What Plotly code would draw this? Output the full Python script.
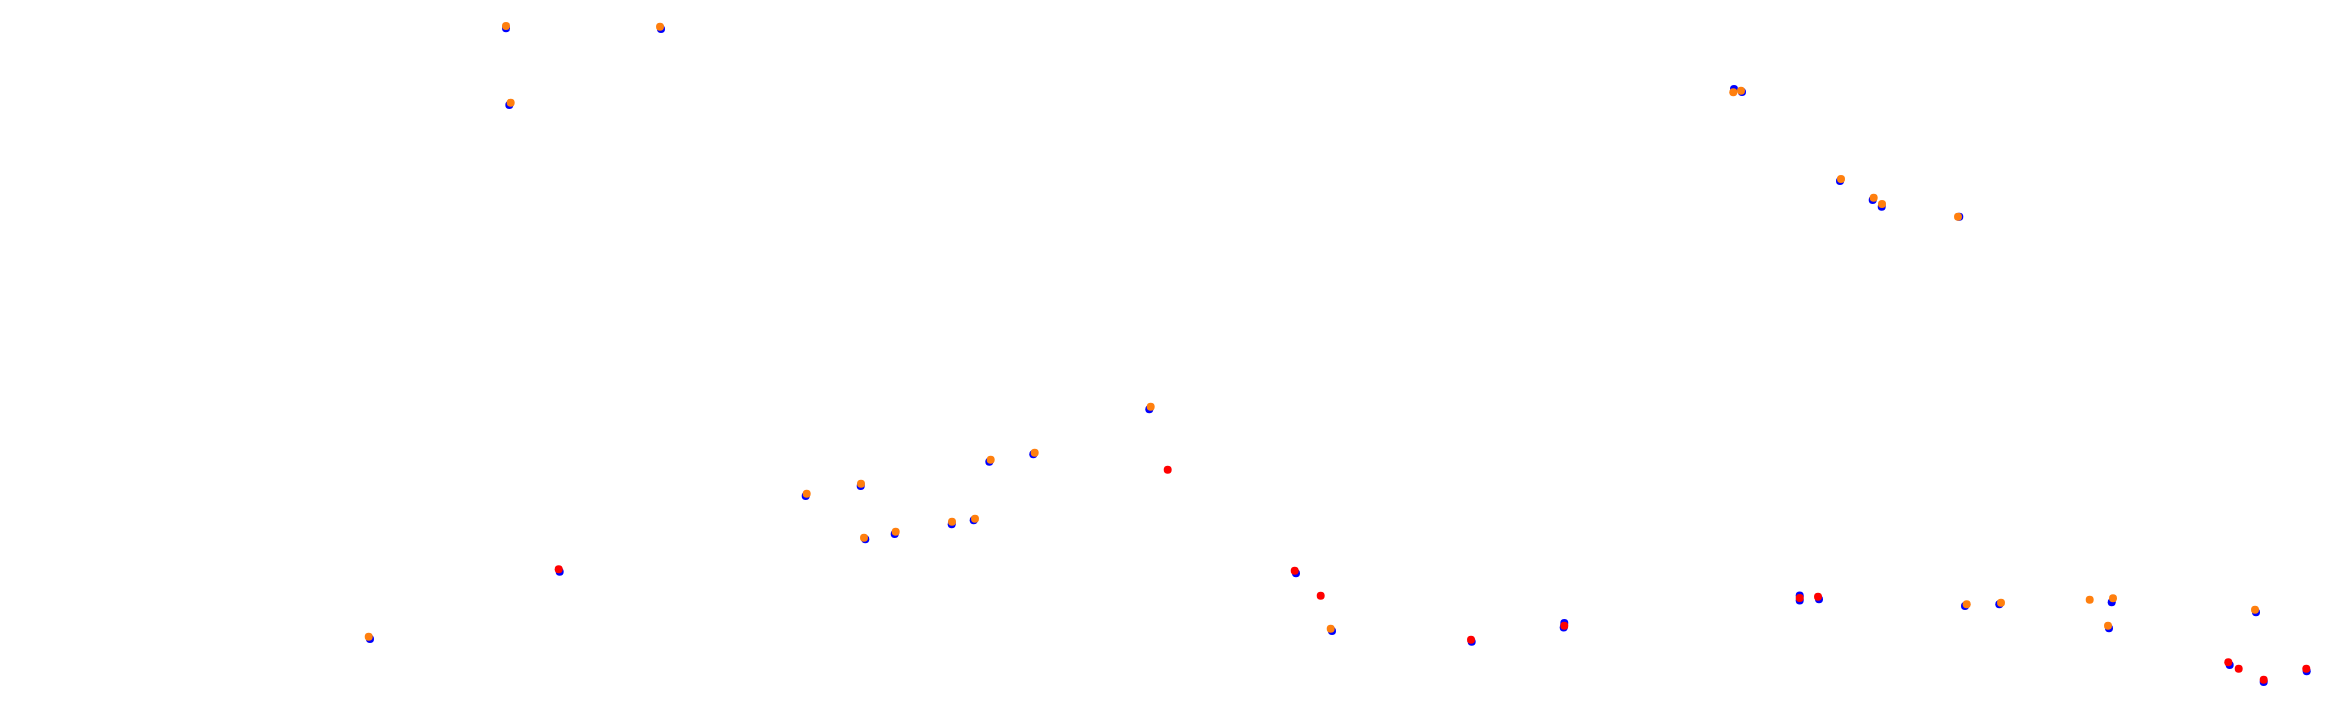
import plotly.graph_objects as go

# Point positions (x to the right, y downward)
blue_x = [506, 661, 509.3, 1734, 1742, 1840, 1872.7, 1881.7, 1959.3, 805.7, 860.7, 865.3, 894.7,
          951.7, 973.7, 989.3, 1033.3, 1149.3, 370, 559.7, 1296, 1332, 1471.7, 1564.3, 1563.7,
          1799.7, 1799.7, 1819, 1965, 1999.3, 2111.7, 2109, 2256, 2229.7, 2263.7, 2306.7]
blue_y = [28.3, 29, 105, 89, 92, 181, 200, 206.7, 216.7, 496, 486, 539.3, 534,
          524.3, 520.3, 461.7, 454.3, 409.3, 639, 571.7, 573.3, 631, 641.7, 623, 627.5,
          595.5, 600.5, 599.3, 606, 604.3, 602.3, 628.3, 612.3, 665, 682, 671.3]

red_x = [1167.7, 558.7, 1294.7, 1320.7, 1471, 1564.3, 1799.7, 1818, 2228.3, 2238.7, 2263.7, 2306.3]
red_y = [469.7, 569.3, 570.7, 595.7, 639.7, 625.7, 598, 596.7, 662.3, 668.7, 679.7, 668.7]

orange_x = [506, 660, 510.7, 1733.3, 1741, 1841, 1873.7, 1882, 1958, 806.7, 861, 864, 895.7,
            952, 975, 990.7, 1034.7, 1150.7, 368.7, 1330.7, 1966.7, 2001, 2089.7, 2113, 2108, 2255]
orange_y = [26, 26.7, 102.7, 92.3, 90.7, 179, 197.7, 204, 216.7, 493.7, 483.7, 537.7, 531.7,
            521.7, 518.7, 459.7, 452.7, 406.7, 636.7, 628.7, 604.3, 602.7, 599.7, 598.3, 625.7, 609.7]

fig = go.Figure()
fig.add_trace(go.Scatter(x=blue_x, y=blue_y, mode="markers",
                         marker=dict(color="#0000ff", size=8, line=dict(width=0))))
fig.add_trace(go.Scatter(x=red_x, y=red_y, mode="markers",
                         marker=dict(color="#ff0000", size=8, line=dict(width=0))))
fig.add_trace(go.Scatter(x=orange_x, y=orange_y, mode="markers",
                         marker=dict(color="#ff7f0e", size=8, line=dict(width=0))))

fig.update_layout(
    width=2344, height=709,
    margin=dict(l=0, r=0, t=0, b=0),
    paper_bgcolor="white", plot_bgcolor="white",
    showlegend=False,
    xaxis=dict(range=[8, 2352], visible=False, showgrid=False, zeroline=False),
    yaxis=dict(range=[717, 8], visible=False, showgrid=False, zeroline=False),
)
fig.write_html("out.html")
